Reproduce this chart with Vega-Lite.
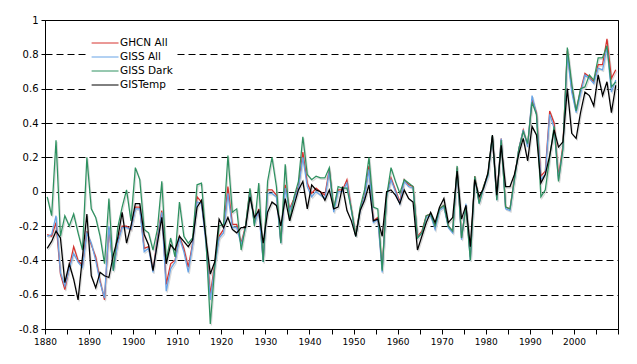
{
  "$schema": "https://vega.github.io/schema/vega-lite/v6.json",
  "width": 573,
  "height": 309,
  "autosize": {"type": "none"},
  "padding": {"left": 45, "top": 20, "right": 19, "bottom": 35},
  "background": "white",
  "data": {"values": [
    {"year":1880,"GHCN All":-0.25,"GISS All":-0.26,"GISS Dark":-0.03,"GISTemp":-0.33},
    {"year":1881,"GHCN All":-0.26,"GISS All":-0.25,"GISS Dark":-0.14,"GISTemp":-0.29},
    {"year":1882,"GHCN All":-0.18,"GISS All":-0.14,"GISS Dark":0.30,"GISTemp":-0.23},
    {"year":1883,"GHCN All":-0.48,"GISS All":-0.47,"GISS Dark":-0.26,"GISTemp":-0.27},
    {"year":1884,"GHCN All":-0.57,"GISS All":-0.55,"GISS Dark":-0.14,"GISTemp":-0.53},
    {"year":1885,"GHCN All":-0.44,"GISS All":-0.45,"GISS Dark":-0.20,"GISTemp":-0.42},
    {"year":1886,"GHCN All":-0.32,"GISS All":-0.36,"GISS Dark":-0.13,"GISTemp":-0.51},
    {"year":1887,"GHCN All":-0.40,"GISS All":-0.41,"GISS Dark":-0.24,"GISTemp":-0.63},
    {"year":1888,"GHCN All":-0.43,"GISS All":-0.44,"GISS Dark":-0.34,"GISTemp":-0.38},
    {"year":1889,"GHCN All":-0.23,"GISS All":-0.24,"GISS Dark":0.20,"GISTemp":-0.13},
    {"year":1890,"GHCN All":-0.31,"GISS All":-0.30,"GISS Dark":-0.10,"GISTemp":-0.49},
    {"year":1891,"GHCN All":-0.38,"GISS All":-0.40,"GISS Dark":-0.15,"GISTemp":-0.56},
    {"year":1892,"GHCN All":-0.52,"GISS All":-0.53,"GISS Dark":-0.26,"GISTemp":-0.47},
    {"year":1893,"GHCN All":-0.63,"GISS All":-0.62,"GISS Dark":-0.42,"GISTemp":-0.49},
    {"year":1894,"GHCN All":-0.21,"GISS All":-0.20,"GISS Dark":-0.04,"GISTemp":-0.50},
    {"year":1895,"GHCN All":-0.45,"GISS All":-0.46,"GISS Dark":-0.46,"GISTemp":-0.37},
    {"year":1896,"GHCN All":-0.29,"GISS All":-0.30,"GISS Dark":-0.21,"GISTemp":-0.27},
    {"year":1897,"GHCN All":-0.20,"GISS All":-0.21,"GISS Dark":-0.09,"GISTemp":-0.12},
    {"year":1898,"GHCN All":-0.20,"GISS All":-0.21,"GISS Dark":0.01,"GISTemp":-0.30},
    {"year":1899,"GHCN All":-0.22,"GISS All":-0.22,"GISS Dark":-0.17,"GISTemp":-0.20},
    {"year":1900,"GHCN All":-0.09,"GISS All":-0.10,"GISS Dark":0.14,"GISTemp":-0.07},
    {"year":1901,"GHCN All":-0.09,"GISS All":-0.10,"GISS Dark":0.07,"GISTemp":-0.07},
    {"year":1902,"GHCN All":-0.33,"GISS All":-0.35,"GISS Dark":-0.22,"GISTemp":-0.25},
    {"year":1903,"GHCN All":-0.32,"GISS All":-0.33,"GISS Dark":-0.24,"GISTemp":-0.31},
    {"year":1904,"GHCN All":-0.46,"GISS All":-0.47,"GISS Dark":-0.34,"GISTemp":-0.46},
    {"year":1905,"GHCN All":-0.27,"GISS All":-0.28,"GISS Dark":-0.22,"GISTemp":-0.30},
    {"year":1906,"GHCN All":-0.11,"GISS All":-0.12,"GISS Dark":0.06,"GISTemp":-0.15},
    {"year":1907,"GHCN All":-0.54,"GISS All":-0.58,"GISS Dark":-0.40,"GISTemp":-0.42},
    {"year":1908,"GHCN All":-0.42,"GISS All":-0.45,"GISS Dark":-0.27,"GISTemp":-0.31},
    {"year":1909,"GHCN All":-0.40,"GISS All":-0.41,"GISS Dark":-0.38,"GISTemp":-0.34},
    {"year":1910,"GHCN All":-0.26,"GISS All":-0.27,"GISS Dark":-0.06,"GISTemp":-0.26},
    {"year":1911,"GHCN All":-0.33,"GISS All":-0.35,"GISS Dark":-0.26,"GISTemp":-0.29},
    {"year":1912,"GHCN All":-0.44,"GISS All":-0.47,"GISS Dark":-0.30,"GISTemp":-0.32},
    {"year":1913,"GHCN All":-0.30,"GISS All":-0.31,"GISS Dark":-0.27,"GISTemp":-0.28},
    {"year":1914,"GHCN All":-0.03,"GISS All":-0.06,"GISS Dark":0.04,"GISTemp":-0.09},
    {"year":1915,"GHCN All":-0.06,"GISS All":-0.07,"GISS Dark":0.05,"GISTemp":-0.05},
    {"year":1916,"GHCN All":-0.28,"GISS All":-0.30,"GISS Dark":-0.27,"GISTemp":-0.27},
    {"year":1917,"GHCN All":-0.60,"GISS All":-0.63,"GISS Dark":-0.77,"GISTemp":-0.48},
    {"year":1918,"GHCN All":-0.42,"GISS All":-0.44,"GISS Dark":-0.44,"GISTemp":-0.41},
    {"year":1919,"GHCN All":-0.26,"GISS All":-0.27,"GISS Dark":-0.20,"GISTemp":-0.16},
    {"year":1920,"GHCN All":-0.22,"GISS All":-0.24,"GISS Dark":-0.19,"GISTemp":-0.21},
    {"year":1921,"GHCN All":0.03,"GISS All":-0.01,"GISS Dark":0.21,"GISTemp":-0.15},
    {"year":1922,"GHCN All":-0.19,"GISS All":-0.21,"GISS Dark":-0.12,"GISTemp":-0.22},
    {"year":1923,"GHCN All":-0.19,"GISS All":-0.21,"GISS Dark":-0.10,"GISTemp":-0.24},
    {"year":1924,"GHCN All":-0.30,"GISS All":-0.31,"GISS Dark":-0.34,"GISTemp":-0.21},
    {"year":1925,"GHCN All":-0.20,"GISS All":-0.21,"GISS Dark":-0.20,"GISTemp":-0.21},
    {"year":1926,"GHCN All":0.01,"GISS All":0.00,"GISS Dark":0.02,"GISTemp":-0.03},
    {"year":1927,"GHCN All":-0.18,"GISS All":-0.19,"GISS Dark":-0.20,"GISTemp":-0.15},
    {"year":1928,"GHCN All":-0.10,"GISS All":-0.11,"GISS Dark":0.05,"GISTemp":-0.11},
    {"year":1929,"GHCN All":-0.40,"GISS All":-0.41,"GISS Dark":-0.41,"GISTemp":-0.30},
    {"year":1930,"GHCN All":0.01,"GISS All":-0.01,"GISS Dark":0.06,"GISTemp":-0.12},
    {"year":1931,"GHCN All":0.01,"GISS All":-0.01,"GISS Dark":0.20,"GISTemp":-0.06},
    {"year":1932,"GHCN All":-0.02,"GISS All":-0.03,"GISS Dark":0.03,"GISTemp":-0.08},
    {"year":1933,"GHCN All":-0.29,"GISS All":-0.30,"GISS Dark":-0.30,"GISTemp":-0.20},
    {"year":1934,"GHCN All":0.04,"GISS All":0.02,"GISS Dark":0.16,"GISTemp":-0.04},
    {"year":1935,"GHCN All":-0.10,"GISS All":-0.11,"GISS Dark":-0.17,"GISTemp":-0.17},
    {"year":1936,"GHCN All":-0.04,"GISS All":-0.05,"GISS Dark":-0.03,"GISTemp":-0.08},
    {"year":1937,"GHCN All":0.03,"GISS All":0.02,"GISS Dark":0.06,"GISTemp":0.01},
    {"year":1938,"GHCN All":0.23,"GISS All":0.20,"GISS Dark":0.32,"GISTemp":0.06},
    {"year":1939,"GHCN All":0.05,"GISS All":0.03,"GISS Dark":0.10,"GISTemp":-0.10},
    {"year":1940,"GHCN All":-0.01,"GISS All":-0.03,"GISS Dark":0.07,"GISTemp":0.04},
    {"year":1941,"GHCN All":0.02,"GISS All":0.00,"GISS Dark":0.09,"GISTemp":0.01},
    {"year":1942,"GHCN All":0.00,"GISS All":-0.02,"GISS Dark":0.08,"GISTemp":0.00},
    {"year":1943,"GHCN All":-0.02,"GISS All":-0.04,"GISS Dark":0.08,"GISTemp":-0.05},
    {"year":1944,"GHCN All":0.13,"GISS All":0.12,"GISS Dark":0.14,"GISTemp":0.01},
    {"year":1945,"GHCN All":-0.10,"GISS All":-0.12,"GISS Dark":-0.10,"GISTemp":-0.10},
    {"year":1946,"GHCN All":0.01,"GISS All":0.00,"GISS Dark":0.03,"GISTemp":-0.09},
    {"year":1947,"GHCN All":0.01,"GISS All":0.00,"GISS Dark":0.02,"GISTemp":0.03},
    {"year":1948,"GHCN All":0.07,"GISS All":0.05,"GISS Dark":0.02,"GISTemp":-0.11},
    {"year":1949,"GHCN All":-0.10,"GISS All":-0.11,"GISS Dark":-0.10,"GISTemp":-0.17},
    {"year":1950,"GHCN All":-0.25,"GISS All":-0.26,"GISS Dark":-0.26,"GISTemp":-0.26},
    {"year":1951,"GHCN All":-0.10,"GISS All":-0.11,"GISS Dark":-0.09,"GISTemp":-0.11},
    {"year":1952,"GHCN All":-0.02,"GISS All":-0.03,"GISS Dark":0.01,"GISTemp":-0.05},
    {"year":1953,"GHCN All":0.15,"GISS All":0.13,"GISS Dark":0.20,"GISTemp":0.04},
    {"year":1954,"GHCN All":-0.17,"GISS All":-0.18,"GISS Dark":-0.09,"GISTemp":-0.17},
    {"year":1955,"GHCN All":-0.15,"GISS All":-0.16,"GISS Dark":-0.10,"GISTemp":-0.16},
    {"year":1956,"GHCN All":-0.45,"GISS All":-0.47,"GISS Dark":-0.46,"GISTemp":-0.26},
    {"year":1957,"GHCN All":-0.02,"GISS All":-0.03,"GISS Dark":-0.03,"GISTemp":0.00},
    {"year":1958,"GHCN All":0.08,"GISS All":0.07,"GISS Dark":0.14,"GISTemp":0.01},
    {"year":1959,"GHCN All":0.01,"GISS All":0.00,"GISS Dark":0.06,"GISTemp":-0.02},
    {"year":1960,"GHCN All":-0.06,"GISS All":-0.07,"GISS Dark":-0.01,"GISTemp":-0.07},
    {"year":1961,"GHCN All":0.07,"GISS All":0.06,"GISS Dark":0.07,"GISTemp":0.01},
    {"year":1962,"GHCN All":0.04,"GISS All":0.03,"GISS Dark":0.05,"GISTemp":-0.04},
    {"year":1963,"GHCN All":0.03,"GISS All":0.02,"GISS Dark":0.03,"GISTemp":-0.06},
    {"year":1964,"GHCN All":-0.26,"GISS All":-0.27,"GISS Dark":-0.27,"GISTemp":-0.34},
    {"year":1965,"GHCN All":-0.23,"GISS All":-0.24,"GISS Dark":-0.24,"GISTemp":-0.26},
    {"year":1966,"GHCN All":-0.14,"GISS All":-0.15,"GISS Dark":-0.14,"GISTemp":-0.18},
    {"year":1967,"GHCN All":-0.13,"GISS All":-0.14,"GISS Dark":-0.13,"GISTemp":-0.12},
    {"year":1968,"GHCN All":-0.21,"GISS All":-0.22,"GISS Dark":-0.20,"GISTemp":-0.18},
    {"year":1969,"GHCN All":-0.10,"GISS All":-0.11,"GISS Dark":-0.10,"GISTemp":-0.09},
    {"year":1970,"GHCN All":-0.08,"GISS All":-0.09,"GISS Dark":-0.08,"GISTemp":-0.04},
    {"year":1971,"GHCN All":-0.20,"GISS All":-0.21,"GISS Dark":-0.20,"GISTemp":-0.18},
    {"year":1972,"GHCN All":-0.23,"GISS All":-0.24,"GISS Dark":-0.23,"GISTemp":-0.15},
    {"year":1973,"GHCN All":0.14,"GISS All":0.13,"GISS Dark":0.15,"GISTemp":0.12},
    {"year":1974,"GHCN All":-0.27,"GISS All":-0.28,"GISS Dark":-0.27,"GISTemp":-0.16},
    {"year":1975,"GHCN All":-0.08,"GISS All":-0.07,"GISS Dark":-0.09,"GISTemp":-0.08},
    {"year":1976,"GHCN All":-0.38,"GISS All":-0.40,"GISS Dark":-0.40,"GISTemp":-0.32},
    {"year":1977,"GHCN All":0.09,"GISS All":0.08,"GISS Dark":0.09,"GISTemp":0.07},
    {"year":1978,"GHCN All":-0.06,"GISS All":-0.07,"GISS Dark":-0.07,"GISTemp":-0.03},
    {"year":1979,"GHCN All":0.03,"GISS All":0.02,"GISS Dark":0.03,"GISTemp":0.02},
    {"year":1980,"GHCN All":0.10,"GISS All":0.09,"GISS Dark":0.10,"GISTemp":0.11},
    {"year":1981,"GHCN All":0.32,"GISS All":0.32,"GISS Dark":0.33,"GISTemp":0.33},
    {"year":1982,"GHCN All":-0.04,"GISS All":-0.05,"GISS Dark":-0.05,"GISTemp":-0.02},
    {"year":1983,"GHCN All":0.31,"GISS All":0.31,"GISS Dark":0.30,"GISTemp":0.27},
    {"year":1984,"GHCN All":-0.09,"GISS All":-0.10,"GISS Dark":-0.09,"GISTemp":0.03},
    {"year":1985,"GHCN All":-0.10,"GISS All":-0.11,"GISS Dark":-0.10,"GISTemp":0.03},
    {"year":1986,"GHCN All":0.08,"GISS All":0.07,"GISS Dark":0.07,"GISTemp":0.10},
    {"year":1987,"GHCN All":0.25,"GISS All":0.25,"GISS Dark":0.25,"GISTemp":0.22},
    {"year":1988,"GHCN All":0.36,"GISS All":0.36,"GISS Dark":0.35,"GISTemp":0.31},
    {"year":1989,"GHCN All":0.27,"GISS All":0.26,"GISS Dark":0.28,"GISTemp":0.18},
    {"year":1990,"GHCN All":0.54,"GISS All":0.56,"GISS Dark":0.52,"GISTemp":0.38},
    {"year":1991,"GHCN All":0.46,"GISS All":0.45,"GISS Dark":0.45,"GISTemp":0.33},
    {"year":1992,"GHCN All":0.09,"GISS All":0.07,"GISS Dark":-0.03,"GISTemp":0.05},
    {"year":1993,"GHCN All":0.12,"GISS All":0.10,"GISS Dark":0.01,"GISTemp":0.10},
    {"year":1994,"GHCN All":0.47,"GISS All":0.45,"GISS Dark":0.20,"GISTemp":0.21},
    {"year":1995,"GHCN All":0.40,"GISS All":0.37,"GISS Dark":0.38,"GISTemp":0.36},
    {"year":1996,"GHCN All":0.09,"GISS All":0.07,"GISS Dark":0.06,"GISTemp":0.26},
    {"year":1997,"GHCN All":0.27,"GISS All":0.25,"GISS Dark":0.25,"GISTemp":0.29},
    {"year":1998,"GHCN All":0.82,"GISS All":0.80,"GISS Dark":0.84,"GISTemp":0.60},
    {"year":1999,"GHCN All":0.60,"GISS All":0.58,"GISS Dark":0.63,"GISTemp":0.34},
    {"year":2000,"GHCN All":0.47,"GISS All":0.46,"GISS Dark":0.47,"GISTemp":0.31},
    {"year":2001,"GHCN All":0.59,"GISS All":0.57,"GISS Dark":0.60,"GISTemp":0.46},
    {"year":2002,"GHCN All":0.69,"GISS All":0.68,"GISS Dark":0.61,"GISTemp":0.58},
    {"year":2003,"GHCN All":0.67,"GISS All":0.66,"GISS Dark":0.68,"GISTemp":0.56},
    {"year":2004,"GHCN All":0.64,"GISS All":0.63,"GISS Dark":0.65,"GISTemp":0.50},
    {"year":2005,"GHCN All":0.74,"GISS All":0.72,"GISS Dark":0.78,"GISTemp":0.68},
    {"year":2006,"GHCN All":0.74,"GISS All":0.71,"GISS Dark":0.78,"GISTemp":0.56},
    {"year":2007,"GHCN All":0.89,"GISS All":0.84,"GISS Dark":0.85,"GISTemp":0.64},
    {"year":2008,"GHCN All":0.66,"GISS All":0.58,"GISS Dark":0.61,"GISTemp":0.46},
    {"year":2009,"GHCN All":0.71,"GISS All":0.65,"GISS Dark":0.64,"GISTemp":0.62}
  ]},
  "transform": [{"fold": ["GHCN All", "GISS All", "GISS Dark", "GISTemp"], "as": ["series", "value"]}],
  "encoding": {
    "x": {
      "field": "year", "type": "quantitative",
      "scale": {"domain": [1879.5, 2009.5], "nice": false, "zero": false},
      "axis": {
        "title": null, "grid": false,
        "values": [1879.5,1884.5,1889.5,1894.5,1899.5,1904.5,1909.5,1914.5,1919.5,1924.5,1929.5,1934.5,1939.5,1944.5,1949.5,1954.5,1959.5,1964.5,1969.5,1974.5,1979.5,1984.5,1989.5,1994.5,1999.5,2004.5,2009.5],
        "labelExpr": "(datum.value + 0.5) % 10 == 0 && datum.value < 2005 ? '' + (datum.value + 0.5) : ''",
        "tickSize": 5, "tickColor": "black", "domainColor": "black",
        "labelFont": "DejaVu Sans", "labelFontSize": 9, "labelColor": "black",
        "labelPadding": 3, "labelFlush": false, "labelOverlap": false
      }
    },
    "y": {
      "field": "value", "type": "quantitative",
      "scale": {"domain": [-0.8, 1], "nice": false, "zero": false},
      "axis": {
        "title": null,
        "values": [-0.8, -0.6, -0.4, -0.2, 0, 0.2, 0.4, 0.6, 0.8, 1],
        "labelExpr": "datum.value < 0 ? '-' + format(-datum.value, '~g') : format(datum.value, '~g')",
        "grid": true, "gridColor": "black", "gridDash": [7, 4], "gridWidth": 1, "gridOpacity": 1,
        "tickSize": 4, "tickColor": "black", "domainColor": "black",
        "labelFont": "DejaVu Sans", "labelFontSize": 10, "labelColor": "black",
        "labelPadding": 3, "labelFlush": false, "labelOverlap": false
      }
    }
  },
  "layer": [
    {
      "mark": {"type": "line", "strokeWidth": 1.25, "color": "#dadada", "xOffset": 1, "yOffset": 1.5, "clip": true},
      "encoding": {"detail": {"field": "series", "type": "nominal"}}
    },
    {
      "mark": {"type": "line", "strokeWidth": 1.25, "clip": true},
      "encoding": {
        "color": {
          "field": "series", "type": "nominal",
          "scale": {"domain": ["GHCN All", "GISS All", "GISS Dark", "GISTemp"], "range": ["#d6322e", "#66a3e6", "#2e9160", "#000000"]},
          "legend": {
            "orient": "none", "legendX": 43, "legendY": 14, "title": null,
            "symbolType": "M-1,0H4", "symbolSize": 116, "symbolStrokeWidth": 1,
            "labelFont": "DejaVu Sans", "labelFontSize": 10.5, "labelColor": "black",
            "labelOffset": 17, "rowPadding": 2, "padding": 3,
            "fillColor": "white"
          }
        }
      }
    }
  ],
  "config": {
    "view": {"stroke": "black", "strokeWidth": 1}
  }
}
